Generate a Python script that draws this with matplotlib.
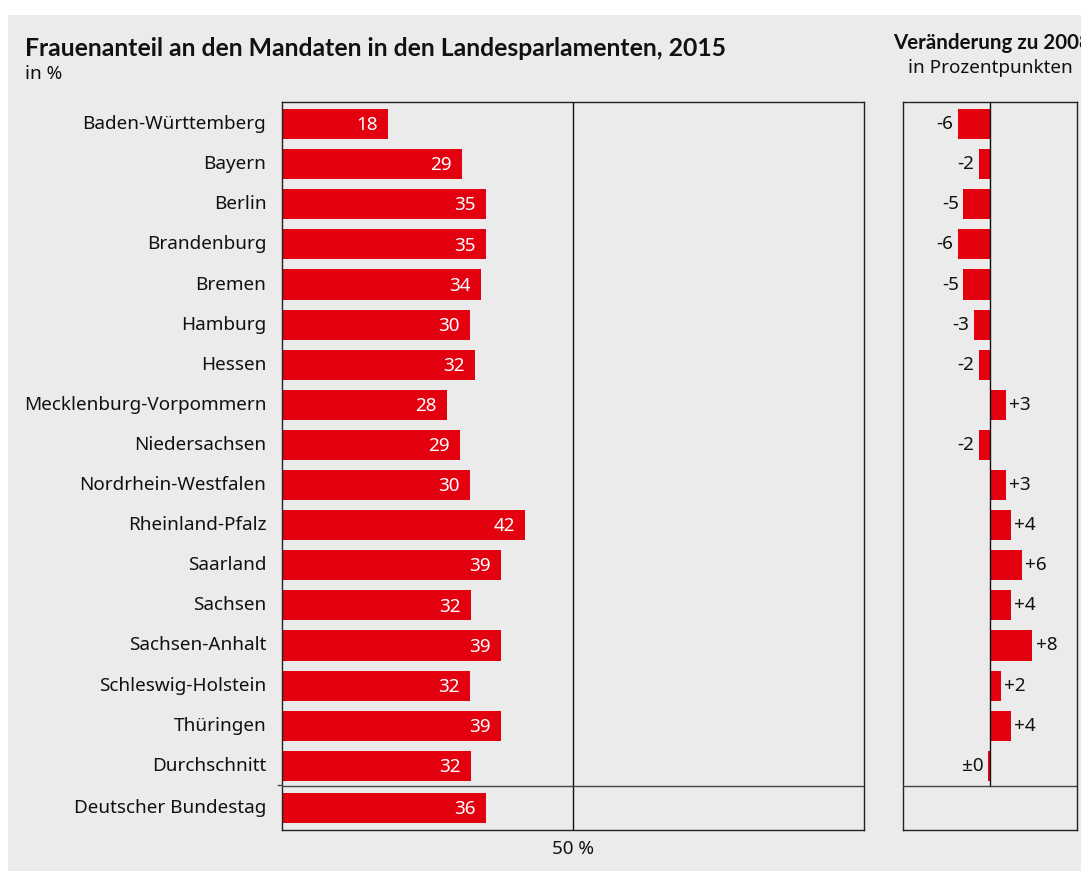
import matplotlib
matplotlib.use('Agg')
import matplotlib.pyplot as plt
from matplotlib.patches import Rectangle

plt.rcParams['font.family'] = ['Noto Sans', 'DejaVu Sans']

# data
laender = ['Baden-Württemberg', 'Bayern', 'Berlin', 'Brandenburg', 'Bremen',
           'Hamburg', 'Hessen', 'Mecklenburg-Vorpommern', 'Niedersachsen',
           'Nordrhein-Westfalen', 'Rheinland-Pfalz', 'Saarland', 'Sachsen',
           'Sachsen-Anhalt', 'Schleswig-Holstein', 'Thüringen', 'Durchschnitt',
           'Deutscher Bundestag']
# bar lengths as drawn in the picture (they differ a little from the printed labels)
anteil = [18.2, 31.0, 35.1, 35.1, 34.2, 32.3, 33.2, 28.4, 30.6, 32.3, 41.8,
          37.6, 32.5, 37.6, 32.3, 37.6, 32.5, 35.1]
anteil_labels = ['18', '29', '35', '35', '34', '30', '32', '28', '29', '30',
                 '42', '39', '32', '39', '32', '39', '32', '36']
veraenderung = [-6, -2, -5, -6, -5, -3, -2, 3, -2, 3, 4, 6, 4, 8, 2, 4, -0.3]
veraenderung_labels = ['-6', '-2', '-5', '-6', '-5', '-3', '-2', '+3', '-2', '+3',
                       '+4', '+6', '+4', '+8', '+2', '+4', '±0']

RED = '#e3000f'
BG = '#ebebeb'
W, H = 1081, 871
FS = 13.6

fig = plt.figure(figsize=(W / 100, H / 100), dpi=100)
fig.patch.set_facecolor('white')
fig.patches.append(Rectangle((8 / W, 0), 1, 1 - 15 / H, transform=fig.transFigure,
                             facecolor=BG, edgecolor='none', zorder=-10))

top = 1 - 102 / H
bottom = 1 - 830 / H
ax = fig.add_axes([282 / W, bottom, (864 - 282) / W, top - bottom])
ax2 = fig.add_axes([903 / W, bottom, (1077 - 903) / W, top - bottom])

ypos = list(range(17)) + [17.05]

for a in (ax, ax2):
    a.set_facecolor(BG)
    a.set_ylim(17.6, -0.55)
    a.set_xticks([])
    a.set_yticks([])
    for s in a.spines.values():
        s.set_linewidth(1.0)
        s.set_color('#222222')

# left panel
ax.set_xlim(0, 100)
ax.barh(ypos, anteil, height=0.75, color=RED, zorder=2)
ax.axvline(50, color='#111111', lw=1, zorder=3)
ax.axhline(16.5, color='#444444', lw=1, zorder=3)
for y, v, lab in zip(ypos, anteil, anteil_labels):
    ax.text(v - 1.8, y + 0.03, lab, color='white', ha='right', va='center',
            fontsize=FS, zorder=4)
for y, name in zip(ypos, laender):
    ax.text(-2.7, y, name, ha='right', va='center', fontsize=FS,
            color='#111111')
ax.text(50, 17.85, '50 %', ha='center', va='top', fontsize=FS,
        color='#111111')

# right panel
ax2.set_xlim(-16.4, 16.4)
ax2.barh(ypos[:17], veraenderung, height=0.75, color=RED, zorder=2)
ax2.plot([0, 0], [-0.55, 16.5], color='#111111', lw=1, zorder=3)
ax2.axhline(16.5, color='#444444', lw=1, zorder=3)
for y, v, lab in zip(ypos[:17], veraenderung, veraenderung_labels):
    if v > 0:
        ax2.text(v + 0.6, y, lab, ha='left', va='center', fontsize=FS,
                 color='#111111')
    else:
        ax2.text(v - 0.9, y, lab, ha='right', va='center', fontsize=FS,
                 color='#111111')

# separator extending left of axes
fig.add_artist(plt.Line2D([278 / W, 282 / W], [1 - 785 / H, 1 - 785 / H],
                          color='#444444', lw=1))

# titles
fig.text(25 / W, 1 - 48 / H, 'Frauenanteil an den Mandaten in den Landesparlamenten, 2015',
         ha='left', va='center', fontsize=17.8, fontweight='bold', color='#111111',
         family=['Lato', 'DejaVu Sans'])
fig.text(25 / W, 1 - 74 / H, 'in %', ha='left', va='center', fontsize=FS,
         color='#111111')
fig.text(893 / W, 1 - 43 / H, 'Veränderung zu 2008', ha='left', va='center',
         fontsize=14.8, fontweight='bold', color='#111111',
         family=['Lato', 'DejaVu Sans'])
fig.text(990 / W, 1 - 68 / H, 'in Prozentpunkten', ha='center', va='center',
         fontsize=FS, color='#111111')

fig.savefig('out.png', dpi=100, facecolor=fig.get_facecolor())
